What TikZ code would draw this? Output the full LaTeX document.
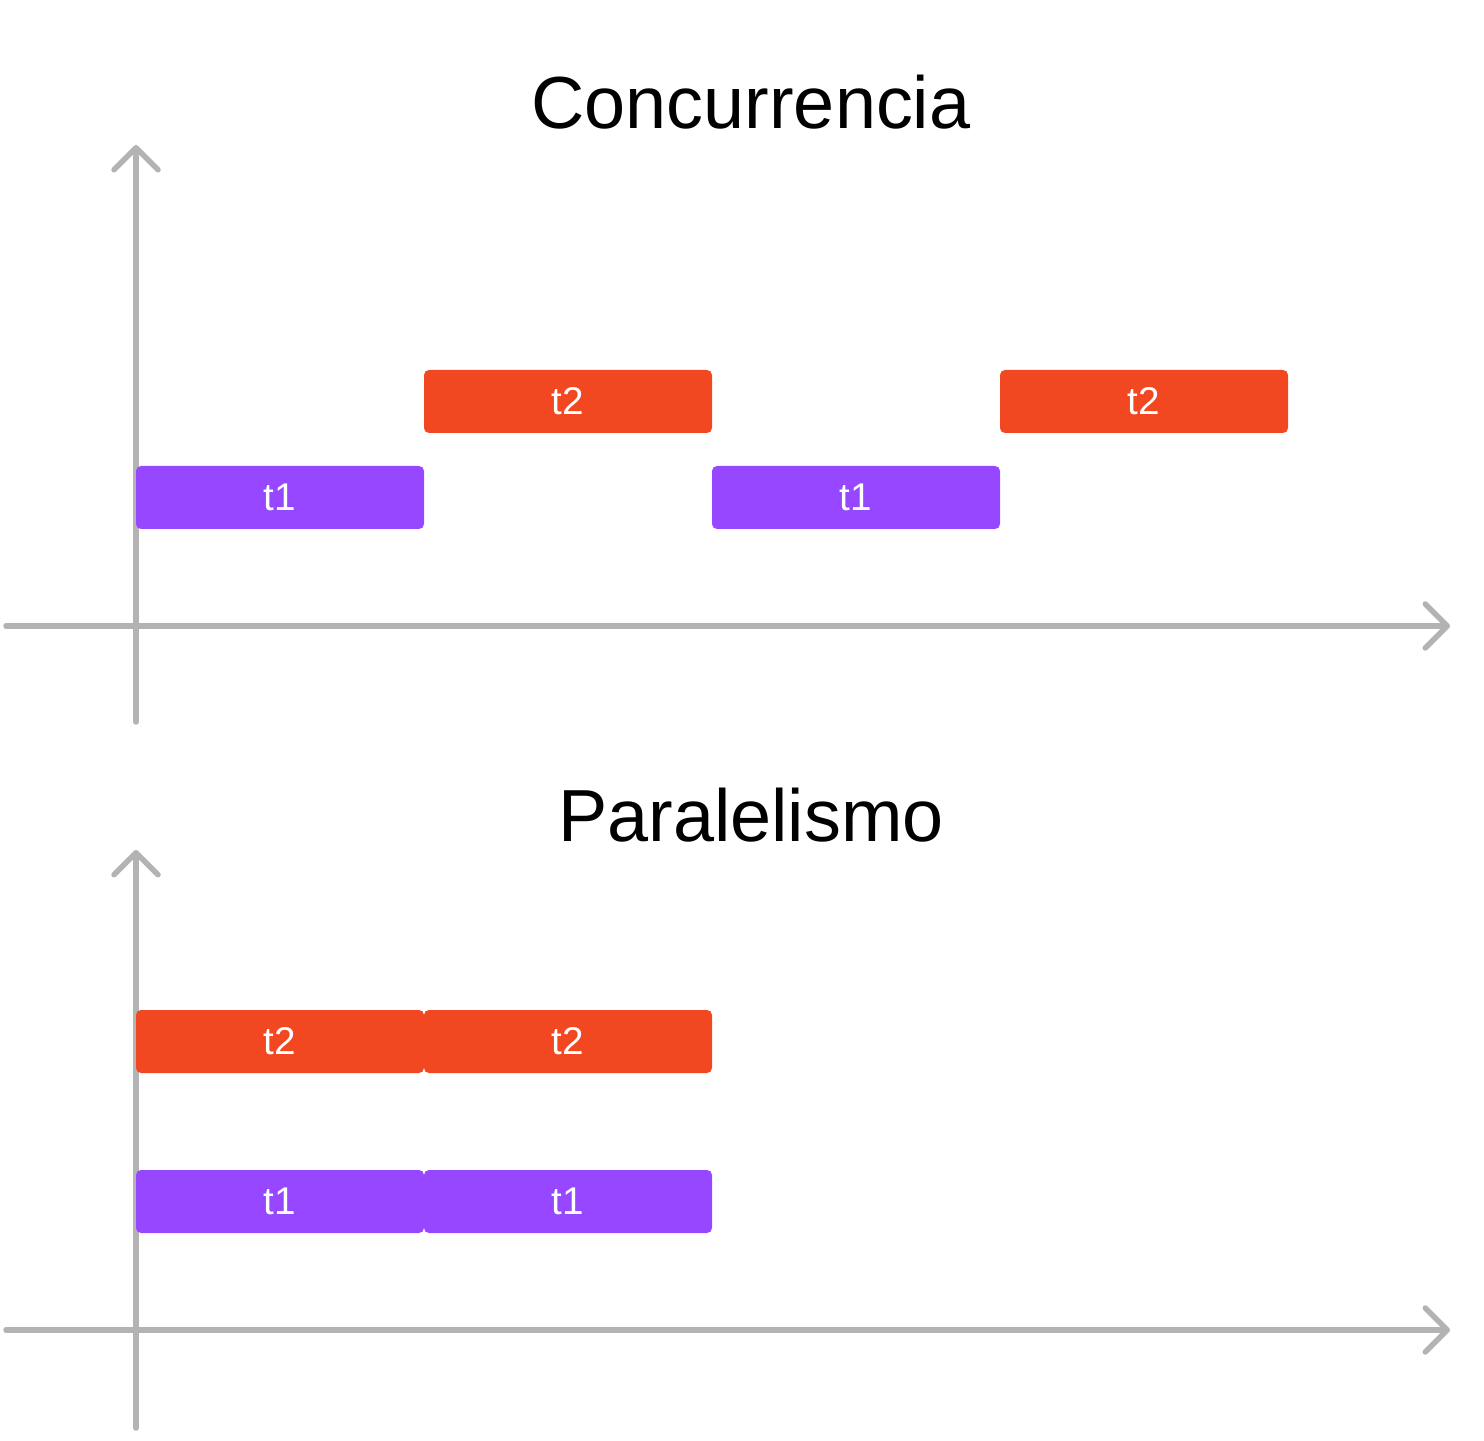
\documentclass[tikz,border=0pt]{standalone}
\usepackage{fontspec}
\setmainfont{Liberation Sans}
\usetikzlibrary{arrows.meta}
\definecolor{tlpurple}{HTML}{9747FF}
\definecolor{tlred}{HTML}{F24822}
\definecolor{tlgray}{HTML}{B3B3B3}
\def\xOri{1.36}
\def\xSta{0.06}
\def\xEnd{14.50}
\def\xA{2.80}
\def\xB{5.68}
\def\xC{8.56}
\def\xD{11.44}
\tikzset{
  tlaxis/.style={draw=tlgray, line width=0.055cm, line cap=round,
    -{Straight Barb[length=2.2mm, width=4.4mm, line cap=round, line join=round]}},
  tlbar/.style={rounded corners=0.05cm, minimum width=2.88cm, minimum height=0.63cm,
    inner sep=0pt, text=white, font=\fontsize{11}{13}\selectfont},
  tlone/.style={tlbar, fill=tlpurple},
  tltwo/.style={tlbar, fill=tlred},
  tltitle/.style={font=\fontsize{21}{25}\selectfont},
}
\newcommand{\tlaxes}[4]{%
  \coordinate (#1w) at (\xSta,#2);
  \coordinate (#1e) at (\xEnd,#2);
  \coordinate (#1s) at (\xOri,#3);
  \coordinate (#1n) at (\xOri,#4);
  \draw[tlaxis] (#1w) -- (#1e);
  \draw[tlaxis] (#1s) -- (#1n);}
\newcommand{\tlone}[3]{\node[tlone] (#1) at (#2,#3) {t1};}
\newcommand{\tltwo}[3]{\node[tltwo] (#1) at (#2,#3) {t2};}

\begin{document}
\begin{tikzpicture}
  \useasboundingbox (0,0) rectangle (14.84,14.40);

  % Concurrencia
  \node[tltitle] (titc) at (7.51,13.38) {Concurrencia};
  \tlaxes{c}{8.14}{7.18}{12.95}
  \tlone{ca}{\xA}{9.425}
  \tltwo{cb}{\xB}{10.385}
  \tlone{cc}{\xC}{9.425}
  \tltwo{cd}{\xD}{10.385}

  % Paralelismo
  \node[tltitle] (titp) at (7.51,6.25) {Paralelismo};
  \tlaxes{p}{1.10}{0.12}{5.90}
  \tltwo{pa}{\xA}{3.985}
  \tltwo{pb}{\xB}{3.985}
  \tlone{pc}{\xA}{2.385}
  \tlone{pd}{\xB}{2.385}
\end{tikzpicture}
\end{document}
